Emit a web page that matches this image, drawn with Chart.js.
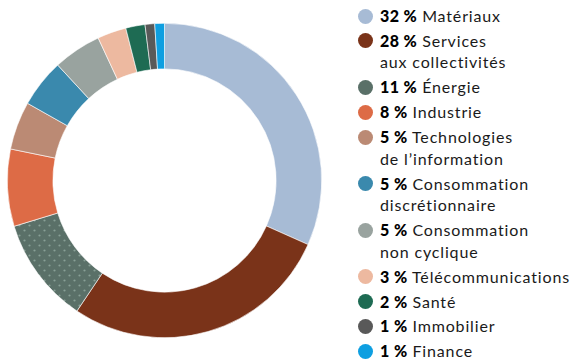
<!DOCTYPE html>
<html lang="fr">
<head>
<meta charset="utf-8">
<script src="https://cdn.jsdelivr.net/npm/chart.js@4"></script>
<style>
  html, body { margin: 0; padding: 0; background: #fff; }
  body { width: 571px; height: 362px; position: relative; overflow: hidden; font-family: Lato, "Open Sans", sans-serif; }
  #wrap { position: absolute; left: 7px; top: 23px; width: 315px; height: 315px; }
  #legend { position: absolute; left: 358px; top: 5px; list-style: none; margin: 0; padding: 0; }
  #legend li { position: relative; padding-left: 22px; font-size: 16px; letter-spacing: 0.85px; line-height: 21.6px; color: #1a1a1a; margin-bottom: 3.3px; white-space: nowrap; }
  #legend li .dot { position: absolute; left: 0; top: 3.5px; width: 15px; height: 15px; border-radius: 50%; }
  #legend li b { font-weight: 900; color: #000; letter-spacing: 0.4px; }
</style>
</head>
<body>
<div id="wrap"><canvas id="chart"></canvas></div>
<ul id="legend"></ul>
<script>
// Sector breakdown (in %)
const sectors = [
  ["Matériaux"],
  ["Services", "aux collectivités"],
  ["Énergie"],
  ["Industrie"],
  ["Technologies", "de l’information"],
  ["Consommation", "discrétionnaire"],
  ["Consommation", "non cyclique"],
  ["Télécommunications"],
  ["Santé"],
  ["Immobilier"],
  ["Finance"]
];
const weights = [32, 28, 11, 8, 5, 5, 5, 3, 2, 1, 1];
const colors = ["#a7bbd5", "#7a3319", "#5a7068", "#dd6b46", "#bb8a74", "#3a89ad",
                "#99a39f", "#edb9a0", "#1e6b53", "#595959", "#0e9fe1"];

// dotted texture for the energy slice
function dottedPattern(base) {
  const c = document.createElement("canvas");
  c.width = 10; c.height = 10;
  const g = c.getContext("2d");
  g.fillStyle = base;
  g.fillRect(0, 0, 10, 10);
  g.fillStyle = "rgba(175,198,188,0.55)";
  [[2.5, 2.5], [7.5, 7.5]].forEach(([x, y]) => {
    g.beginPath(); g.arc(x, y, 1.1, 0, Math.PI * 2); g.fill();
  });
  return g.createPattern(c, "repeat");
}
const fills = colors.map((c, i) => i === 2 ? dottedPattern(c) : c);

new Chart(document.getElementById("chart"), {
  type: "doughnut",
  data: {
    labels: sectors.map(s => s.join(" ")),
    datasets: [{
      data: weights,
      backgroundColor: fills,
      borderColor: "#ffffff",
      borderWidth: 0.6
    }]
  },
  options: {
    responsive: true,
    maintainAspectRatio: false,
    animation: false,
    cutout: "71%",
    rotation: 0,
    layout: { padding: 0 },
    plugins: { legend: { display: false }, tooltip: { enabled: false } }
  }
});

// legend with bold percentages
const legend = document.getElementById("legend");
sectors.forEach((lines, i) => {
  const li = document.createElement("li");
  const dot = document.createElement("span");
  dot.className = "dot";
  dot.style.background = colors[i];
  li.appendChild(dot);
  const b = document.createElement("b");
  b.textContent = weights[i] + " %";
  li.appendChild(b);
  li.appendChild(document.createTextNode(" " + lines[0]));
  for (let k = 1; k < lines.length; k++) {
    li.appendChild(document.createElement("br"));
    li.appendChild(document.createTextNode(lines[k]));
  }
  legend.appendChild(li);
});
</script>
</body>
</html>
